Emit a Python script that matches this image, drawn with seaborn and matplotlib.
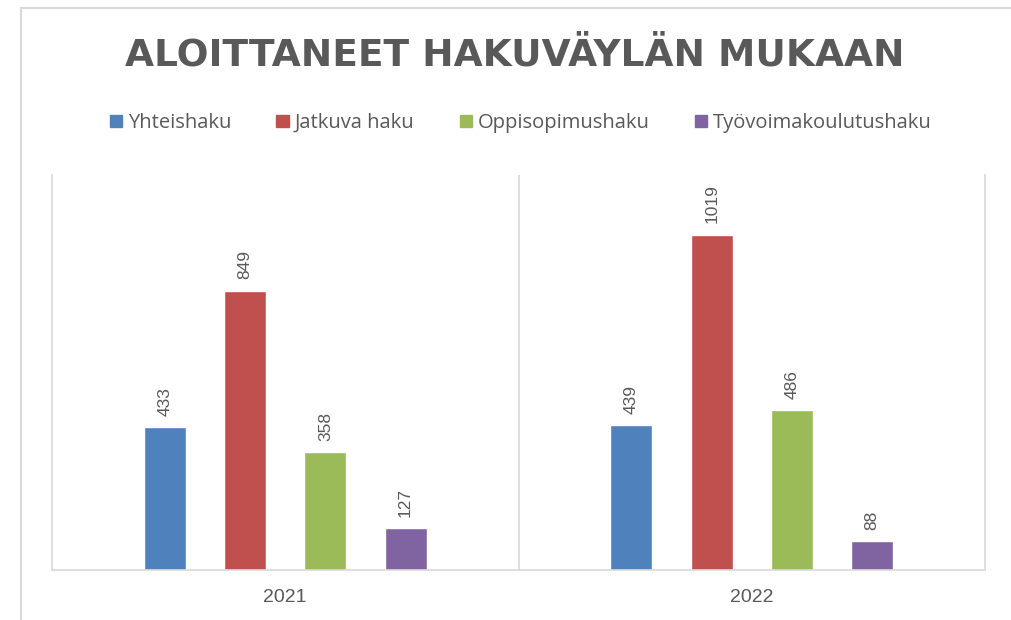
import matplotlib
matplotlib.use("Agg")
import matplotlib.pyplot as plt
import matplotlib.patches as mpatches
import seaborn as sns
import pandas as pd

years = ["2021", "2022"]
series = ["Yhteishaku", "Jatkuva haku", "Oppisopimushaku", "Työvoimakoulutushaku"]
yhteishaku = [433, 439]
jatkuva = [849, 1019]
oppisopimus = [358, 486]
tyovoima = [127, 88]
colors = ["#4F81BD", "#C0504D", "#9BBB59", "#8064A2"]
title = "ALOITTANEET HAKUVÄYLÄN MUKAAN"

rows = []
for s, vals in zip(series, [yhteishaku, jatkuva, oppisopimus, tyovoima]):
    for y, v in zip(years, vals):
        rows.append({"Vuosi": y, "Hakuväylä": s, "Aloittaneet": v})
df = pd.DataFrame(rows)

sns.set_theme(style="white")
plt.rcParams['font.family'] = ['Open Sans', 'DejaVu Sans']

W, H = 1011, 620
fig = plt.figure(figsize=(W / 100, H / 100), dpi=100)
ax = fig.add_axes([52 / W, 1 - 570 / H, (985 - 52) / W, (570 - 175) / H])

sns.barplot(data=df, x="Vuosi", y="Aloittaneet", hue="Hakuväylä", order=years,
            hue_order=series, palette=colors, width=0.688, gap=0.475,
            saturation=1, ax=ax, legend=False)

ax.set_xlim(-0.5, 1.5)
ax.set_ylim(0, 1200)
ax.set_yticks([])
ax.set_xlabel("")
ax.set_ylabel("")
ax.tick_params(axis="x", length=0, pad=14, labelsize=14, labelcolor="#595959")
for lbl in ax.get_xticklabels():
    lbl.set_family(['Liberation Sans', 'DejaVu Sans'])
ax.spines["top"].set_visible(False)
for sp in ["left", "right", "bottom"]:
    ax.spines[sp].set_color("#D9D9D9")
    ax.spines[sp].set_linewidth(1.2)
ax.axvline(0.5, color="#D9D9D9", lw=1.2)

for cont in ax.containers:
    ax.bar_label(cont, labels=[f"{int(v)}" for v in cont.datavalues], rotation=90,
                 padding=8, fontsize=12.5, color="#595959",
                 family=['Liberation Sans', 'DejaVu Sans'])

# legend
handles = [mpatches.Patch(color=c, label=s) for c, s in zip(colors, series)]
fig.legend(handles=handles, loc="center", bbox_to_anchor=(0.515, 1 - 123 / H), ncol=4,
           frameon=False, fontsize=14.5, handlelength=0.6, handleheight=0.6,
           handletextpad=0.3, columnspacing=2.25, labelcolor="#595959")

fig.text(0.509, 1 - 56 / H, title, ha="center", va="center", fontsize=27,
         fontweight="bold", color="#595959", family=['DejaVu Sans'])

# outer chart border
fig.patches.append(mpatches.Rectangle((21 / W, -0.1), 1.2, 1 - 8 / H + 0.1,
                                      transform=fig.transFigure, fill=False,
                                      edgecolor="#D9D9D9", lw=1.5))

fig.savefig("out.png", dpi=100, facecolor="white")
